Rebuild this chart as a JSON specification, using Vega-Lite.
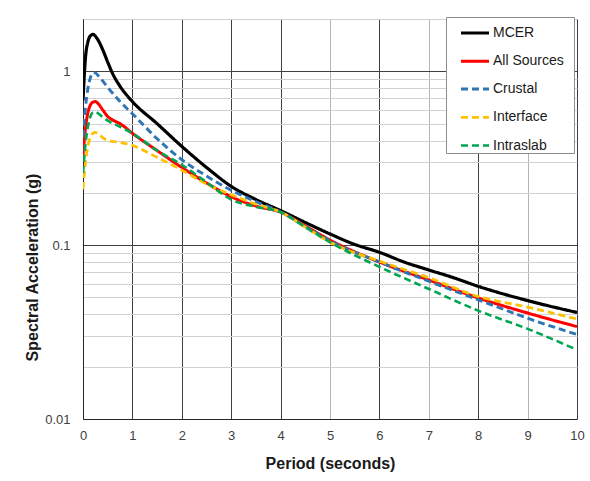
{
  "$schema": "https://vega.github.io/schema/vega-lite/v6.json",
  "width": 494,
  "height": 400,
  "autosize": {"type": "none"},
  "padding": {"left": 83, "top": 19, "right": 13, "bottom": 62},
  "background": "white",
  "config": {
    "view": {"stroke": "#262626", "strokeWidth": 1},
    "font": "Liberation Sans",
    "axis": {"labelFont": "Liberation Sans", "titleFont": "Liberation Sans"},
    "legend": {"labelFont": "Liberation Sans"}
  },
  "datasets": {
    "spectra": [
      {"s": "MCER", "T": 0, "Sa": 0.68}, {"s": "MCER", "T": 0.05, "Sa": 1.2}, {"s": "MCER", "T": 0.1, "Sa": 1.48}, {"s": "MCER", "T": 0.15, "Sa": 1.6}, {"s": "MCER", "T": 0.2, "Sa": 1.63}, {"s": "MCER", "T": 0.3, "Sa": 1.52}, {"s": "MCER", "T": 0.4, "Sa": 1.33}, {"s": "MCER", "T": 0.5, "Sa": 1.13}, {"s": "MCER", "T": 0.6, "Sa": 0.97}, {"s": "MCER", "T": 0.75, "Sa": 0.82}, {"s": "MCER", "T": 1, "Sa": 0.67}, {"s": "MCER", "T": 1.5, "Sa": 0.5}, {"s": "MCER", "T": 2, "Sa": 0.37}, {"s": "MCER", "T": 2.5, "Sa": 0.28}, {"s": "MCER", "T": 3, "Sa": 0.218}, {"s": "MCER", "T": 3.5, "Sa": 0.183}, {"s": "MCER", "T": 4, "Sa": 0.158}, {"s": "MCER", "T": 4.5, "Sa": 0.135}, {"s": "MCER", "T": 5, "Sa": 0.116}, {"s": "MCER", "T": 5.5, "Sa": 0.101}, {"s": "MCER", "T": 6, "Sa": 0.091}, {"s": "MCER", "T": 6.5, "Sa": 0.08}, {"s": "MCER", "T": 7, "Sa": 0.072}, {"s": "MCER", "T": 7.5, "Sa": 0.065}, {"s": "MCER", "T": 8, "Sa": 0.058}, {"s": "MCER", "T": 9, "Sa": 0.048}, {"s": "MCER", "T": 10, "Sa": 0.041},
      {"s": "All Sources", "T": 0, "Sa": 0.33}, {"s": "All Sources", "T": 0.05, "Sa": 0.47}, {"s": "All Sources", "T": 0.1, "Sa": 0.58}, {"s": "All Sources", "T": 0.15, "Sa": 0.64}, {"s": "All Sources", "T": 0.2, "Sa": 0.665}, {"s": "All Sources", "T": 0.25, "Sa": 0.67}, {"s": "All Sources", "T": 0.3, "Sa": 0.655}, {"s": "All Sources", "T": 0.4, "Sa": 0.6}, {"s": "All Sources", "T": 0.5, "Sa": 0.55}, {"s": "All Sources", "T": 0.6, "Sa": 0.525}, {"s": "All Sources", "T": 0.75, "Sa": 0.5}, {"s": "All Sources", "T": 1, "Sa": 0.44}, {"s": "All Sources", "T": 1.5, "Sa": 0.35}, {"s": "All Sources", "T": 2, "Sa": 0.28}, {"s": "All Sources", "T": 2.5, "Sa": 0.228}, {"s": "All Sources", "T": 3, "Sa": 0.19}, {"s": "All Sources", "T": 3.5, "Sa": 0.168}, {"s": "All Sources", "T": 4, "Sa": 0.155}, {"s": "All Sources", "T": 4.5, "Sa": 0.129}, {"s": "All Sources", "T": 5, "Sa": 0.107}, {"s": "All Sources", "T": 6, "Sa": 0.08}, {"s": "All Sources", "T": 7, "Sa": 0.063}, {"s": "All Sources", "T": 8, "Sa": 0.0497}, {"s": "All Sources", "T": 9, "Sa": 0.0407}, {"s": "All Sources", "T": 10, "Sa": 0.034},
      {"s": "Crustal", "T": 0, "Sa": 0.42}, {"s": "Crustal", "T": 0.05, "Sa": 0.62}, {"s": "Crustal", "T": 0.1, "Sa": 0.8}, {"s": "Crustal", "T": 0.15, "Sa": 0.92}, {"s": "Crustal", "T": 0.2, "Sa": 0.98}, {"s": "Crustal", "T": 0.25, "Sa": 0.98}, {"s": "Crustal", "T": 0.3, "Sa": 0.95}, {"s": "Crustal", "T": 0.4, "Sa": 0.88}, {"s": "Crustal", "T": 0.5, "Sa": 0.81}, {"s": "Crustal", "T": 0.75, "Sa": 0.67}, {"s": "Crustal", "T": 1, "Sa": 0.57}, {"s": "Crustal", "T": 1.5, "Sa": 0.41}, {"s": "Crustal", "T": 2, "Sa": 0.31}, {"s": "Crustal", "T": 2.5, "Sa": 0.25}, {"s": "Crustal", "T": 3, "Sa": 0.207}, {"s": "Crustal", "T": 3.5, "Sa": 0.178}, {"s": "Crustal", "T": 4, "Sa": 0.155}, {"s": "Crustal", "T": 4.5, "Sa": 0.128}, {"s": "Crustal", "T": 5, "Sa": 0.106}, {"s": "Crustal", "T": 6, "Sa": 0.08}, {"s": "Crustal", "T": 7, "Sa": 0.062}, {"s": "Crustal", "T": 8, "Sa": 0.0485}, {"s": "Crustal", "T": 9, "Sa": 0.038}, {"s": "Crustal", "T": 10, "Sa": 0.0306},
      {"s": "Interface", "T": 0, "Sa": 0.21}, {"s": "Interface", "T": 0.05, "Sa": 0.3}, {"s": "Interface", "T": 0.1, "Sa": 0.37}, {"s": "Interface", "T": 0.15, "Sa": 0.42}, {"s": "Interface", "T": 0.2, "Sa": 0.44}, {"s": "Interface", "T": 0.25, "Sa": 0.445}, {"s": "Interface", "T": 0.3, "Sa": 0.44}, {"s": "Interface", "T": 0.4, "Sa": 0.415}, {"s": "Interface", "T": 0.5, "Sa": 0.4}, {"s": "Interface", "T": 0.75, "Sa": 0.39}, {"s": "Interface", "T": 1, "Sa": 0.375}, {"s": "Interface", "T": 1.5, "Sa": 0.32}, {"s": "Interface", "T": 2, "Sa": 0.27}, {"s": "Interface", "T": 2.5, "Sa": 0.225}, {"s": "Interface", "T": 3, "Sa": 0.195}, {"s": "Interface", "T": 3.5, "Sa": 0.172}, {"s": "Interface", "T": 4, "Sa": 0.155}, {"s": "Interface", "T": 4.5, "Sa": 0.127}, {"s": "Interface", "T": 5, "Sa": 0.104}, {"s": "Interface", "T": 6, "Sa": 0.081}, {"s": "Interface", "T": 7, "Sa": 0.065}, {"s": "Interface", "T": 8, "Sa": 0.0507}, {"s": "Interface", "T": 9, "Sa": 0.044}, {"s": "Interface", "T": 10, "Sa": 0.0376},
      {"s": "Intraslab", "T": 0, "Sa": 0.26}, {"s": "Intraslab", "T": 0.05, "Sa": 0.38}, {"s": "Intraslab", "T": 0.1, "Sa": 0.48}, {"s": "Intraslab", "T": 0.15, "Sa": 0.55}, {"s": "Intraslab", "T": 0.2, "Sa": 0.58}, {"s": "Intraslab", "T": 0.25, "Sa": 0.585}, {"s": "Intraslab", "T": 0.3, "Sa": 0.575}, {"s": "Intraslab", "T": 0.4, "Sa": 0.545}, {"s": "Intraslab", "T": 0.5, "Sa": 0.52}, {"s": "Intraslab", "T": 0.75, "Sa": 0.48}, {"s": "Intraslab", "T": 1, "Sa": 0.44}, {"s": "Intraslab", "T": 1.5, "Sa": 0.35}, {"s": "Intraslab", "T": 2, "Sa": 0.29}, {"s": "Intraslab", "T": 2.5, "Sa": 0.23}, {"s": "Intraslab", "T": 3, "Sa": 0.183}, {"s": "Intraslab", "T": 3.5, "Sa": 0.166}, {"s": "Intraslab", "T": 4, "Sa": 0.155}, {"s": "Intraslab", "T": 4.5, "Sa": 0.127}, {"s": "Intraslab", "T": 5, "Sa": 0.104}, {"s": "Intraslab", "T": 6, "Sa": 0.075}, {"s": "Intraslab", "T": 7, "Sa": 0.056}, {"s": "Intraslab", "T": 8, "Sa": 0.042}, {"s": "Intraslab", "T": 9, "Sa": 0.033}, {"s": "Intraslab", "T": 10, "Sa": 0.025}
    ]
  },
  "data": {"name": "spectra"},
  "mark": {"type": "line", "interpolate": "monotone", "strokeCap": "butt", "clip": true},
  "encoding": {
    "x": {
      "field": "T", "type": "quantitative",
      "scale": {"domain": [0, 10], "nice": false},
      "axis": {
        "values": [0, 1, 2, 3, 4, 5, 6, 7, 8, 9, 10],
        "format": "d",
        "labelFlush": false,
        "title": "Period (seconds)",
        "titleFontSize": 16, "titleFontWeight": "bold", "titleColor": "#1a1a1a",
        "titleY": 44, "titleBaseline": "middle",
        "labelFontSize": 13, "labelColor": "#404040", "labelPadding": 10,
        "ticks": false, "tickSize": 0,
        "domainColor": "#262626",
        "grid": true,
        "gridColor": {"condition": {"test": "datum.value == 5 || datum.value == 7 || datum.value == 9", "value": "#b4b4b4"}, "value": "#404040"},
        "gridOpacity": 1
      }
    },
    "y": {
      "field": "Sa", "type": "quantitative",
      "scale": {"type": "log", "domain": [0.01, 2], "nice": false},
      "axis": {
        "values": [0.01, 0.02, 0.03, 0.04, 0.05, 0.06, 0.07, 0.08, 0.09, 0.1, 0.2, 0.3, 0.4, 0.5, 0.6, 0.7, 0.8, 0.9, 1, 2],
        "labelExpr": "datum.value == 0.01 ? '0.01' : datum.value == 0.1 ? '0.1' : datum.value == 1 ? '1' : ''",
        "labelFlush": false,
        "title": "Spectral Acceleration (g)",
        "titleFontSize": 16, "titleFontWeight": "bold", "titleColor": "#1a1a1a",
        "titleX": -51, "titleY": 248, "titleBaseline": "middle", "titleAlign": "center",
        "labelFontSize": 13, "labelColor": "#404040", "labelPadding": 13,
        "ticks": false, "tickSize": 0,
        "domainColor": "#262626",
        "grid": true,
        "gridColor": {"condition": {"test": "datum.value == 0.1 || datum.value == 1", "value": "#404040"}, "value": "#d2d2d2"},
        "gridOpacity": 1
      }
    },
    "color": {
      "field": "s", "type": "nominal",
      "scale": {"domain": ["MCER", "All Sources", "Crustal", "Interface", "Intraslab"], "range": ["#000000", "#ff0000", "#2e75b6", "#ffc000", "#00a651"]},
      "legend": {
        "title": null,
        "orient": "none", "legendX": 363, "legendY": -2,
        "padding": 0,
        "fillColor": "white", "strokeColor": "#8c8c8c",
        "symbolType": "stroke", "symbolSize": 784, "symbolStrokeWidth": 2.5, "symbolOffset": 13,
        "labelFontSize": 14, "labelColor": "#1a1a1a", "labelOffset": 2,
        "labelExpr": "datum.label + '\u2800'",
        "rowPadding": 5.25
      }
    },
    "strokeDash": {
      "field": "s", "type": "nominal",
      "scale": {"domain": ["MCER", "All Sources", "Crustal", "Interface", "Intraslab"], "range": [[1, 0], [1, 0], [7, 4], [7, 4], [7, 4]]},
      "legend": {
        "title": null,
        "orient": "none", "legendX": 363, "legendY": -2,
        "padding": 0,
        "fillColor": "white", "strokeColor": "#8c8c8c",
        "symbolType": "stroke", "symbolSize": 784, "symbolStrokeWidth": 2.5, "symbolOffset": 13,
        "labelFontSize": 14, "labelColor": "#1a1a1a", "labelOffset": 2,
        "labelExpr": "datum.label + '\u2800'",
        "rowPadding": 5.25
      }
    },
    "strokeWidth": {
      "field": "s", "type": "nominal",
      "scale": {"domain": ["MCER", "All Sources", "Crustal", "Interface", "Intraslab"], "range": [3.2, 2.6, 2.5, 2.5, 2.5]},
      "legend": null
    }
  }
}
